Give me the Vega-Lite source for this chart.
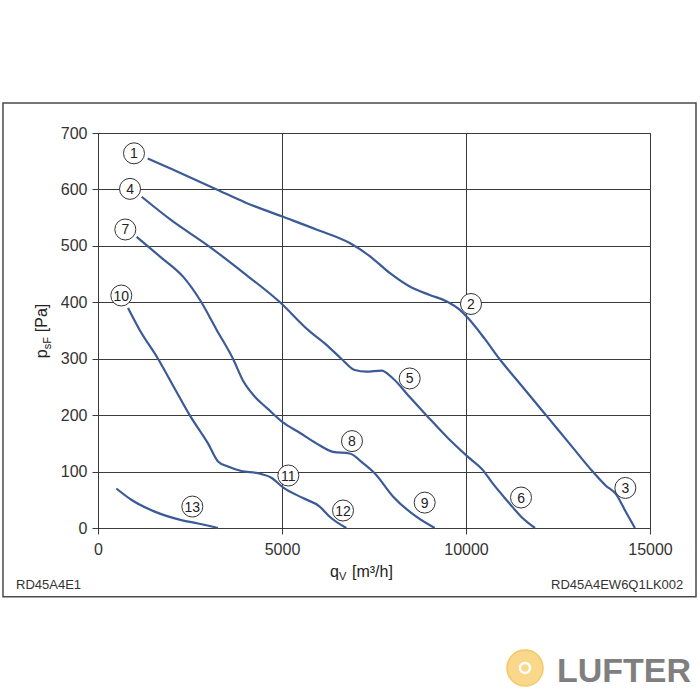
{
  "$schema": "https://vega.github.io/schema/vega-lite/v6.json",
  "autosize": {"type": "none"},
  "width": 552,
  "height": 395,
  "padding": {"left": 98, "top": 133, "right": 50, "bottom": 172},
  "background": "white",
  "config": {
    "view": {"stroke": "#3a3a3a", "strokeWidth": 1},
    "font": "Liberation Sans",
    "axis": {
      "labelFont": "Liberation Sans",
      "labelFontSize": 16,
      "labelColor": "#333333",
      "labelFlush": false,
      "labelOverlap": false,
      "gridColor": "#3a3a3a",
      "gridOpacity": 1,
      "gridWidth": 1,
      "domainColor": "#3a3a3a",
      "tickColor": "#3a3a3a",
      "tickSize": 6
    }
  },
  "datasets": {
    "one": [{}],
    "curves": [
      {"curve": "A", "q": 1350, "p": 655}, {"curve": "A", "q": 2000, "p": 636}, {"curve": "A", "q": 3225, "p": 600}, {"curve": "A", "q": 4000, "p": 577}, {"curve": "A", "q": 5008, "p": 552}, {"curve": "A", "q": 5933, "p": 529}, {"curve": "A", "q": 6840, "p": 505}, {"curve": "A", "q": 7383, "p": 482}, {"curve": "A", "q": 7926, "p": 452}, {"curve": "A", "q": 8470, "p": 428}, {"curve": "A", "q": 9013, "p": 413}, {"curve": "A", "q": 9465, "p": 402}, {"curve": "A", "q": 9826, "p": 387}, {"curve": "A", "q": 10054, "p": 372}, {"curve": "A", "q": 10500, "p": 336}, {"curve": "A", "q": 10906, "p": 300}, {"curve": "A", "q": 11540, "p": 250}, {"curve": "A", "q": 12174, "p": 200}, {"curve": "A", "q": 12808, "p": 150}, {"curve": "A", "q": 13442, "p": 100}, {"curve": "A", "q": 13800, "p": 75}, {"curve": "A", "q": 14076, "p": 60}, {"curve": "A", "q": 14330, "p": 30}, {"curve": "A", "q": 14590, "p": 0},
      {"curve": "B", "q": 1187, "p": 587}, {"curve": "B", "q": 2000, "p": 545}, {"curve": "B", "q": 2998, "p": 500}, {"curve": "B", "q": 4000, "p": 450}, {"curve": "B", "q": 4946, "p": 400}, {"curve": "B", "q": 5707, "p": 351}, {"curve": "B", "q": 6200, "p": 325}, {"curve": "B", "q": 6612, "p": 300}, {"curve": "B", "q": 6975, "p": 280}, {"curve": "B", "q": 7291, "p": 277}, {"curve": "B", "q": 7700, "p": 279}, {"curve": "B", "q": 8016, "p": 265}, {"curve": "B", "q": 8470, "p": 232}, {"curve": "B", "q": 8922, "p": 200}, {"curve": "B", "q": 9500, "p": 160}, {"curve": "B", "q": 10054, "p": 126}, {"curve": "B", "q": 10453, "p": 103}, {"curve": "B", "q": 10725, "p": 79}, {"curve": "B", "q": 11177, "p": 44}, {"curve": "B", "q": 11500, "p": 20}, {"curve": "B", "q": 11875, "p": 0},
      {"curve": "C", "q": 1050, "p": 516}, {"curve": "C", "q": 1685, "p": 481}, {"curve": "C", "q": 2318, "p": 445}, {"curve": "C", "q": 2772, "p": 404}, {"curve": "C", "q": 3225, "p": 351}, {"curve": "C", "q": 3668, "p": 300}, {"curve": "C", "q": 3950, "p": 260}, {"curve": "C", "q": 4257, "p": 233}, {"curve": "C", "q": 4600, "p": 212}, {"curve": "C", "q": 5027, "p": 187}, {"curve": "C", "q": 5500, "p": 168}, {"curve": "C", "q": 5933, "p": 150}, {"curve": "C", "q": 6386, "p": 135}, {"curve": "C", "q": 6840, "p": 132}, {"curve": "C", "q": 7201, "p": 115}, {"curve": "C", "q": 7518, "p": 97}, {"curve": "C", "q": 8016, "p": 56}, {"curve": "C", "q": 8650, "p": 20}, {"curve": "C", "q": 9150, "p": 0},
      {"curve": "D", "q": 815, "p": 390}, {"curve": "D", "q": 1132, "p": 351}, {"curve": "D", "q": 1630, "p": 300}, {"curve": "D", "q": 2060, "p": 250}, {"curve": "D", "q": 2491, "p": 200}, {"curve": "D", "q": 2989, "p": 150}, {"curve": "D", "q": 3261, "p": 118}, {"curve": "D", "q": 3533, "p": 109}, {"curve": "D", "q": 3895, "p": 101}, {"curve": "D", "q": 4348, "p": 97}, {"curve": "D", "q": 4710, "p": 89}, {"curve": "D", "q": 5027, "p": 72}, {"curve": "D", "q": 5571, "p": 53}, {"curve": "D", "q": 6024, "p": 38}, {"curve": "D", "q": 6296, "p": 20}, {"curve": "D", "q": 6748, "p": 0},
      {"curve": "E", "q": 498, "p": 70}, {"curve": "E", "q": 905, "p": 50}, {"curve": "E", "q": 1540, "p": 29}, {"curve": "E", "q": 2264, "p": 14}, {"curve": "E", "q": 2717, "p": 8}, {"curve": "E", "q": 3261, "p": 0}
    ],
    "labels": [
      {"n": "1", "q": 978, "p": 664}, {"n": "2", "q": 10136, "p": 397}, {"n": "3", "q": 14330, "p": 71},
      {"n": "4", "q": 870, "p": 601}, {"n": "5", "q": 8470, "p": 265}, {"n": "6", "q": 11495, "p": 54},
      {"n": "7", "q": 742, "p": 529}, {"n": "8", "q": 6902, "p": 154}, {"n": "9", "q": 8877, "p": 45},
      {"n": "10", "q": 633, "p": 412}, {"n": "11", "q": 5172, "p": 93}, {"n": "12", "q": 6658, "p": 31},
      {"n": "13", "q": 2563, "p": 38}
    ]
  },
  "layer": [
    {
      "data": {"name": "curves"},
      "mark": {"type": "line", "interpolate": "monotone", "color": "#3b5b97", "strokeWidth": 2.2},
      "encoding": {
        "x": {"field": "q", "type": "quantitative", "scale": {"domain": [0, 15000], "nice": false, "zero": false},
              "axis": {"title": null, "values": [0, 5000, 10000, 15000], "format": "d", "grid": true, "labelPadding": 7}},
        "y": {"field": "p", "type": "quantitative", "scale": {"domain": [0, 700], "nice": false, "zero": false},
              "axis": {"title": null, "values": [0, 100, 200, 300, 400, 500, 600, 700], "format": "d", "grid": true, "labelPadding": 5}},
        "detail": {"field": "curve"}
      }
    },
    {
      "data": {"name": "one"},
      "mark": {"type": "rect", "filled": false, "stroke": "#4a4a4a", "strokeWidth": 1.5, "clip": false},
      "encoding": {
        "x": {"datum": -2582, "type": "quantitative"},
        "x2": {"datum": 16250},
        "y": {"datum": 753, "type": "quantitative"},
        "y2": {"datum": -122}
      }
    },
    {
      "data": {"name": "labels"},
      "mark": {"type": "point", "shape": "circle", "size": 441, "filled": true, "fill": "white", "stroke": "#333333", "strokeWidth": 1, "opacity": 1},
      "encoding": {
        "x": {"field": "q", "type": "quantitative"},
        "y": {"field": "p", "type": "quantitative"}
      }
    },
    {
      "data": {"name": "labels"},
      "mark": {"type": "text", "font": "Liberation Sans", "fontSize": 14, "color": "#222222", "align": "center", "baseline": "middle", "dy": 1},
      "encoding": {
        "x": {"field": "q", "type": "quantitative"},
        "y": {"field": "p", "type": "quantitative"},
        "text": {"field": "n"}
      }
    },
    {
      "data": {"name": "one"},
      "mark": {"type": "text", "font": "Liberation Sans", "fontSize": 16, "color": "#222222", "align": "left", "baseline": "alphabetic", "angle": 270, "text": "p", "dx": 0},
      "encoding": {
        "x": {"datum": -1386, "type": "quantitative"},
        "y": {"datum": 301, "type": "quantitative"}
      }
    },
    {
      "data": {"name": "one"},
      "mark": {"type": "text", "font": "Liberation Sans", "fontSize": 11, "color": "#222222", "align": "left", "baseline": "alphabetic", "angle": 270, "text": "sF", "dx": 9, "dy": 4},
      "encoding": {
        "x": {"datum": -1386, "type": "quantitative"},
        "y": {"datum": 301, "type": "quantitative"}
      }
    },
    {
      "data": {"name": "one"},
      "mark": {"type": "text", "font": "Liberation Sans", "fontSize": 16, "color": "#222222", "align": "left", "baseline": "alphabetic", "angle": 270, "text": "[Pa]", "dx": 26},
      "encoding": {
        "x": {"datum": -1386, "type": "quantitative"},
        "y": {"datum": 301, "type": "quantitative"}
      }
    },
    {
      "data": {"name": "one"},
      "mark": {"type": "text", "font": "Liberation Sans", "fontSize": 16, "color": "#222222", "align": "left", "baseline": "alphabetic", "text": "q", "dx": 0},
      "encoding": {
        "x": {"datum": 6304, "type": "quantitative"},
        "y": {"datum": -87, "type": "quantitative"}
      }
    },
    {
      "data": {"name": "one"},
      "mark": {"type": "text", "font": "Liberation Sans", "fontSize": 11, "color": "#222222", "align": "left", "baseline": "alphabetic", "text": "V", "dx": 9, "dy": 3},
      "encoding": {
        "x": {"datum": 6304, "type": "quantitative"},
        "y": {"datum": -87, "type": "quantitative"}
      }
    },
    {
      "data": {"name": "one"},
      "mark": {"type": "text", "font": "Liberation Sans", "fontSize": 16, "color": "#222222", "align": "left", "baseline": "alphabetic", "text": "[m³/h]", "dx": 22},
      "encoding": {
        "x": {"datum": 6304, "type": "quantitative"},
        "y": {"datum": -87, "type": "quantitative"}
      }
    },
    {
      "data": {"name": "one"},
      "mark": {"type": "text", "font": "Liberation Sans", "fontSize": 13, "color": "#333333", "align": "left", "baseline": "alphabetic", "text": "RD45A4E1"},
      "encoding": {
        "x": {"datum": -2228, "type": "quantitative"},
        "y": {"datum": -108, "type": "quantitative"}
      }
    },
    {
      "data": {"name": "one"},
      "mark": {"type": "text", "font": "Liberation Sans", "fontSize": 13, "color": "#333333", "align": "right", "baseline": "alphabetic", "text": "RD45A4EW6Q1LK002"},
      "encoding": {
        "x": {"datum": 15905, "type": "quantitative"},
        "y": {"datum": -108, "type": "quantitative"}
      }
    },
    {
      "data": {"name": "one"},
      "mark": {"type": "point", "shape": "circle", "size": 1296, "filled": true, "fill": "#f9d88c", "stroke": "#f4c865", "strokeWidth": 1.5, "opacity": 1},
      "encoding": {
        "x": {"datum": 11603, "type": "quantitative"},
        "y": {"datum": -248, "type": "quantitative"}
      }
    },
    {
      "data": {"name": "one"},
      "mark": {"type": "point", "shape": "circle", "size": 100, "filled": false, "stroke": "white", "strokeWidth": 2.5, "opacity": 1},
      "encoding": {
        "x": {"datum": 11603, "type": "quantitative"},
        "y": {"datum": -248, "type": "quantitative"}
      }
    },
    {
      "data": {"name": "one"},
      "mark": {"type": "text", "font": "Liberation Sans", "fontSize": 34, "fontWeight": "bold", "color": "#7f7f7f", "align": "left", "baseline": "alphabetic", "text": "LUFTER"},
      "encoding": {
        "x": {"datum": 12473, "type": "quantitative"},
        "y": {"datum": -273, "type": "quantitative"}
      }
    }
  ]
}
